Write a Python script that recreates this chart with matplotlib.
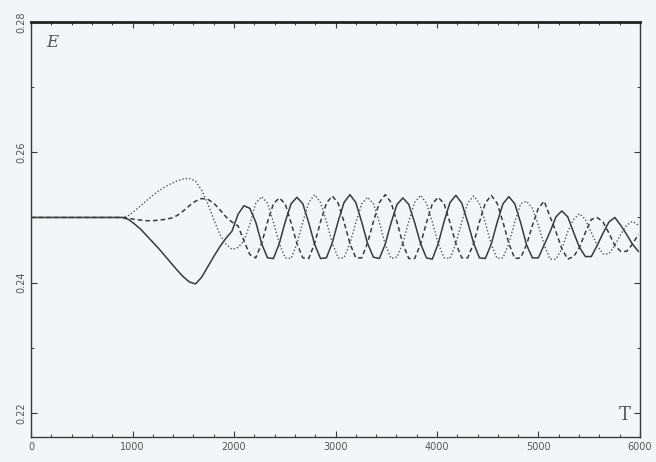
import numpy as np
import matplotlib
matplotlib.use("Agg")
import matplotlib.pyplot as plt
from matplotlib.ticker import MultipleLocator

# time grid: flat part, transition, oscillating part
T = np.concatenate([[0, 900], np.arange(960, 1981, 60), np.arange(2040, 6000, 58)])

E_solid = [0.2500, 0.2500,
    0.2497, 0.2490, 0.2482, 0.2472, 0.2462, 0.2452, 0.2441, 0.2430, 0.2419,
    0.2409, 0.2401, 0.2398, 0.2408, 0.2424, 0.2440, 0.2455, 0.2468, 0.2479,
    0.2505, 0.2518, 0.2514,
    0.2493, 0.2460, 0.2438, 0.2437, 0.2460, 0.2493, 0.2521, 0.2531, 0.2521,
    0.2492, 0.2459, 0.2437, 0.2438, 0.2461, 0.2494, 0.2523, 0.2535, 0.2523,
    0.2493, 0.2460, 0.2439, 0.2437, 0.2459, 0.2492, 0.2520, 0.2530, 0.2520,
    0.2492, 0.2460, 0.2438, 0.2436, 0.2460, 0.2494, 0.2523, 0.2534, 0.2522,
    0.2493, 0.2461, 0.2438, 0.2437, 0.2459, 0.2492, 0.2521, 0.2532, 0.2521,
    0.2492,
    0.2458, 0.2438, 0.2438, 0.2458,
    0.2478, 0.2501, 0.2510, 0.2501,
    0.2477, 0.2454, 0.2440, 0.2440,
    0.2457, 0.2476, 0.2493, 0.2500,
    0.2488, 0.2474, 0.2459, 0.2448]

E_dotted = [0.2500, 0.2500,
    0.2503, 0.2510, 0.2518, 0.2526, 0.2534, 0.2541, 0.2547, 0.2552, 0.2556,
    0.2559, 0.2560, 0.2556, 0.2542, 0.2522, 0.2497, 0.2474, 0.2459, 0.2451,
    0.2454, 0.2464, 0.2489,
    0.2522, 0.2532, 0.2522, 0.2493, 0.2460, 0.2438, 0.2437, 0.2460, 0.2493,
    0.2523, 0.2535, 0.2523, 0.2494, 0.2461, 0.2438, 0.2438, 0.2460, 0.2492,
    0.2521, 0.2531, 0.2521, 0.2492, 0.2459, 0.2437, 0.2439, 0.2461, 0.2494,
    0.2523, 0.2534, 0.2522, 0.2493, 0.2460, 0.2438, 0.2437, 0.2460, 0.2493,
    0.2522, 0.2533, 0.2522, 0.2492, 0.2459, 0.2437, 0.2438, 0.2460, 0.2493,
    0.2521,
    0.2525, 0.2514, 0.2488, 0.2458,
    0.2436, 0.2436, 0.2452, 0.2478,
    0.2497, 0.2506, 0.2497, 0.2477,
    0.2457, 0.2444, 0.2444, 0.2457,
    0.2474, 0.2488, 0.2494, 0.2488]

E_dashed = [0.2500, 0.2500,
    0.2499, 0.2497, 0.2496, 0.2495, 0.2495, 0.2496, 0.2497, 0.2499, 0.2503,
    0.2510, 0.2518, 0.2525, 0.2529, 0.2528, 0.2522, 0.2512, 0.2501, 0.2493,
    0.2487, 0.2464, 0.2443,
    0.2438, 0.2460, 0.2493, 0.2521, 0.2530, 0.2521, 0.2492, 0.2460, 0.2438,
    0.2437, 0.2460, 0.2493, 0.2522, 0.2533, 0.2522, 0.2493, 0.2460, 0.2438,
    0.2438, 0.2461, 0.2494, 0.2523, 0.2535, 0.2523, 0.2493, 0.2459, 0.2437,
    0.2437, 0.2459, 0.2492, 0.2521, 0.2531, 0.2521, 0.2492, 0.2460, 0.2438,
    0.2438, 0.2460, 0.2493, 0.2522, 0.2534, 0.2522, 0.2493, 0.2460, 0.2437,
    0.2438,
    0.2458, 0.2488, 0.2514, 0.2525,
    0.2501, 0.2478, 0.2452, 0.2436,
    0.2440, 0.2454, 0.2477, 0.2497,
    0.2500, 0.2493, 0.2476, 0.2457,
    0.2448, 0.2448, 0.2459, 0.2474]

x_ticks = [0, 1000, 2000, 3000, 4000, 5000, 6000]
y_ticks = [0.22, 0.24, 0.26, 0.28]

bg = "#f3f5f8"
ink = "#3a3a3a"

fig = plt.figure(figsize=(6.56, 4.62), dpi=100, facecolor=bg)
ax = fig.add_axes([0.0473, 0.054, 0.9283, 0.8984], facecolor=bg)

ax.plot(T, E_solid, color=ink, lw=1.1, ls="-")
ax.plot(T, E_dashed, color=ink, lw=1.1, ls=(0, (3, 2)))
ax.plot(T, E_dotted, color="#555555", lw=1.0, ls=(0, (1, 1.5)))

ax.set_xlim(0, 6000)
ax.set_ylim(0.2163, 0.28)
ax.set_xticks(x_ticks)
ax.set_xticklabels([str(t) for t in x_ticks])
ax.xaxis.set_minor_locator(MultipleLocator(200))
ax.set_yticks(y_ticks)
ax.set_yticklabels(["%.2f" % v for v in y_ticks], rotation=90, va="center")
ax.yaxis.set_minor_locator(MultipleLocator(0.01))
ax.tick_params(which="both", direction="in", top=True, right=True, colors=ink,
               labelsize=7, labelcolor="#555555")
ax.tick_params(which="major", length=4, width=0.8)
ax.tick_params(which="minor", length=2.5, width=0.7)

for side in ["left", "bottom", "right"]:
    ax.spines[side].set_color(ink)
    ax.spines[side].set_linewidth(1.0)
ax.spines["top"].set_color("#222222")
ax.spines["top"].set_linewidth(2.0)

ax.text(0.025, 0.94, "E", transform=ax.transAxes, fontsize=12, style="italic",
        family="DejaVu Serif", color="#555555")
ax.text(0.965, 0.04, "T", transform=ax.transAxes, fontsize=13,
        family="DejaVu Serif", color="#555555")

fig.savefig("out.png", dpi=100, facecolor=bg)
